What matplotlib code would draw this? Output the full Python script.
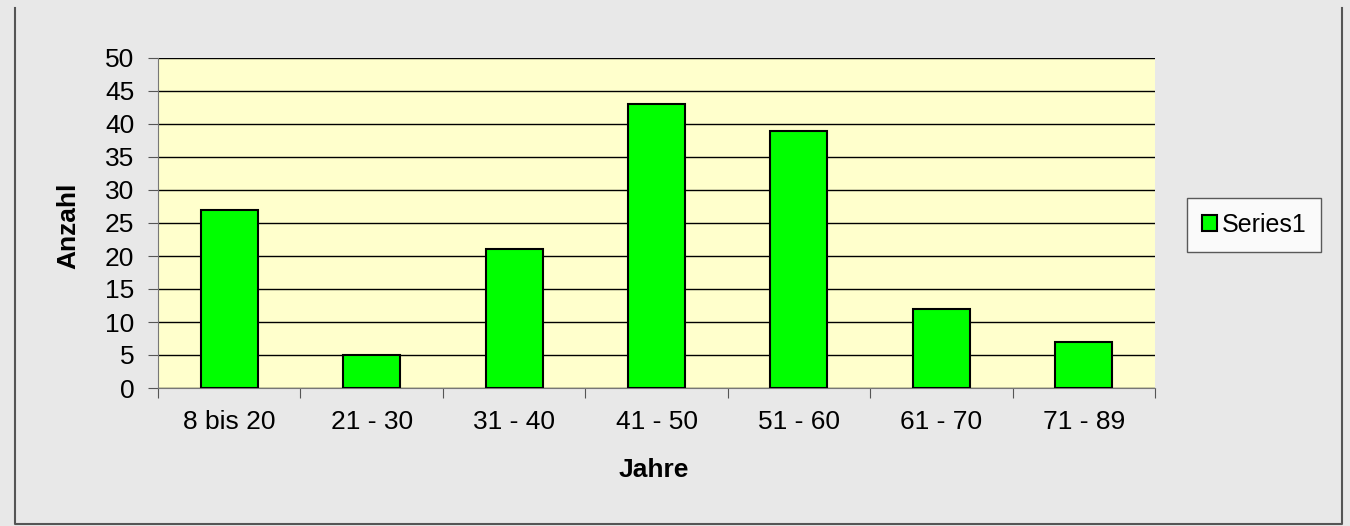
import matplotlib
matplotlib.use("Agg")
import matplotlib.pyplot as plt
from matplotlib.lines import Line2D
import numpy as np

categories = ["8 bis 20", "21 - 30", "31 - 40", "41 - 50", "51 - 60", "61 - 70", "71 - 89"]
values = [27, 5, 21, 43, 39, 12, 7]
series_name = "Series1"

plt.rcParams['font.family'] = ['Liberation Sans', 'DejaVu Sans']

W, H = 1350, 526
fig = plt.figure(figsize=(W / 100, H / 100), dpi=100)
fig.patch.set_facecolor('#e8e8e8')
# outer frame (left, bottom, right)
fx0, fx1, fy0, fy1 = 15 / W, 1342 / W, 1 - 524 / H, 1 - 8 / H
fig.add_artist(Line2D([fx0, fx0, fx1, fx1], [fy1, fy0, fy0, fy1], transform=fig.transFigure,
                      color='#555555', linewidth=1.5))

ax = fig.add_axes([158 / W, 1 - 388 / H, (1155 - 158) / W, (388 - 58) / H])
ax.set_facecolor('#ffffcc')
x = np.arange(len(categories))
bars = ax.bar(x, values, width=0.4, color='#00ff00', edgecolor='black', linewidth=1.5, zorder=3, label=series_name)
ax.set_xlim(-0.5, len(categories) - 0.5)
ax.set_ylim(0, 50)
ax.set_yticks(np.arange(0, 51, 5))
ax.yaxis.grid(True, color='black', linewidth=1.0, zorder=0)
ax.set_axisbelow(True)
ax.set_xticks(np.arange(-0.5, len(categories), 1.0))
ax.set_xticklabels([])
ax.set_xticks(x, minor=True)
ax.set_xticklabels(categories, minor=True)
ax.tick_params(axis='x', which='minor', length=0, pad=16, labelsize=19)
ax.tick_params(axis='x', which='major', length=7, direction='out', color='#555555')
ax.tick_params(axis='y', length=7, direction='out', labelsize=19, color='#555555', pad=10)
for s in ['top', 'right']:
    ax.spines[s].set_visible(False)
ax.spines['left'].set_color('#777777')
ax.spines['bottom'].set_color('#777777')
ax.set_xlabel("Jahre", fontsize=19, fontweight='bold')
ax.set_ylabel("Anzahl", fontsize=19, fontweight='bold')
ax.xaxis.set_label_coords((654 - 158) / (1155 - 158), -(470 - 388) / (388 - 58))
ax.yaxis.set_label_coords(-(158 - 68) / (1155 - 158), (388 - 226) / (388 - 58))
ax.xaxis.label.set_va('center')
ax.yaxis.label.set_va('center')

leg = fig.legend(handles=[bars], labels=[series_name], loc='center',
                 bbox_to_anchor=((1180 + 1328) / 2 / W, 1 - (202 + 247) / 2 / H),
                 fontsize=18, frameon=True, fancybox=False, edgecolor='#333333',
                 handlelength=0.6, handleheight=0.6, handletextpad=0.2, borderpad=0.6,
                 borderaxespad=0)
leg.get_frame().set_linewidth(1.0)
leg.get_frame().set_facecolor('white')

fig.savefig("out.png", dpi=100, facecolor=fig.get_facecolor())
